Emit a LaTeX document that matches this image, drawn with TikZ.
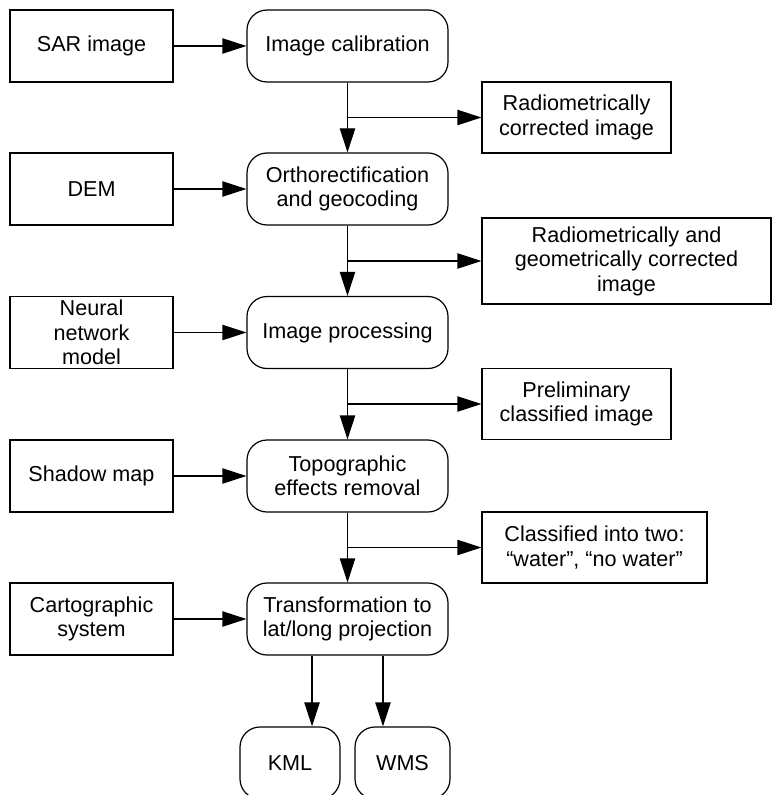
\documentclass[tikz,border=0pt]{standalone}
\usepackage{fontspec}
\setmainfont{Liberation Sans}
\usetikzlibrary{arrows.meta}

\tikzset{every picture/.style={line width=0.9pt}}
\tikzset{
  inbox/.style={draw, rectangle, align=center, inner sep=1pt, minimum width=122.25pt, minimum height=54pt},
  stepbox/.style={draw, rectangle, rounded corners=15pt, align=center, inner sep=1pt, minimum width=150.75pt, minimum height=54pt},
  outbox/.style={draw, rectangle, align=center, inner sep=1pt, minimum width=141.75pt, minimum height=53.25pt},
  arr/.style={-{Triangle[length=18pt,width=11.5pt]}}
}

\begin{document}
\begin{tikzpicture}[x=0.75pt,y=0.75pt,yscale=-1,xscale=1,font=\fontsize{16.2}{18.4}\selectfont]
\clip (0,0) rectangle (772,795); %set diagram size to 772 x 795

%Shapes: Input boxes
\node[inbox] (sar) at (91.5,46) {SAR image};
\node[inbox] (dem) at (91.5,189) {DEM};
\node[inbox] (neural) at (91.5,332.5) {Neural\\network\\model};
\node[inbox] (shadow) at (91.5,476) {Shadow map};
\node[inbox] (carto) at (91.5,619) {Cartographic\\system};

%Shapes: Processing steps
\node[stepbox] (calib) at (347.5,46) {Image calibration};
\node[stepbox] (ortho) at (347.5,189) {Orthorectification\\and geocoding};
\node[stepbox] (proc) at (347.5,332.5) {Image processing};
\node[stepbox] (topo) at (347.5,476) {Topographic\\effects removal};
\node[stepbox] (trans) at (347.5,619) {Transformation to\\lat/long projection};

%Shapes: Outputs
\node[outbox] (radio) at (576.5,117.5) {Radiometrically\\corrected image};
\node[outbox, minimum width=216.75pt, minimum height=64.5pt] (radgeo) at (626.5,261) {Radiometrically and\\geometrically corrected\\image};
\node[outbox] (prelim) at (576.5,404) {Preliminary\\classified image};
\node[outbox, minimum width=168.75pt] (classif) at (594.5,547.5) {Classified into two:\\“water”, “no water”};
\node[stepbox, minimum width=75pt] (kml) at (290,763) {KML};
\node[stepbox, minimum width=71.25pt] (wms) at (402.5,763) {WMS};

%Arrows: inputs to steps
\draw[arr] (sar) -- (calib);
\draw[arr] (dem) -- (ortho);
\draw[arr] (neural) -- (proc);
\draw[arr] (shadow) -- (topo);
\draw[arr] (carto) -- (trans);

%Arrows: down the chain
\draw[arr] (calib) -- (ortho);
\draw[arr] (ortho) -- (proc);
\draw[arr] (proc) -- (topo);
\draw[arr] (topo) -- (trans);

%Arrows: branches to outputs
\draw[arr] (calib.south |- radio.west) -- (radio.west);
\draw[arr] (ortho.south |- radgeo.west) -- (radgeo.west);
\draw[arr] (proc.south |- prelim.west) -- (prelim.west);
\draw[arr] (topo.south |- classif.west) -- (classif.west);

%Arrows: to KML and WMS
\draw[arr] ([xshift=-26.6pt]trans.south) -- ([xshift=-26.6pt]trans.south |- kml.north);
\draw[arr] ([xshift=26.6pt]trans.south) -- ([xshift=26.6pt]trans.south |- wms.north);

\end{tikzpicture}
\end{document}
